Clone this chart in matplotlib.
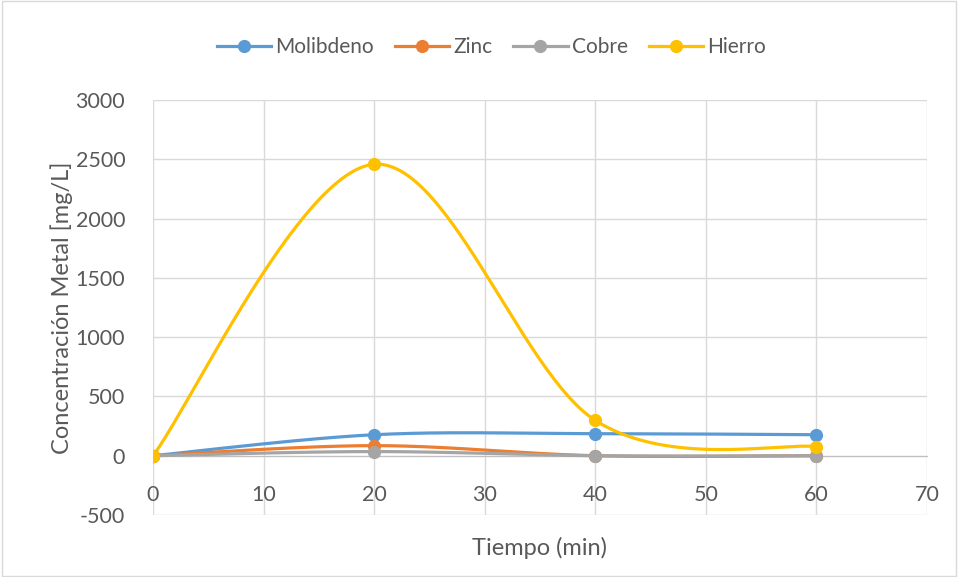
import numpy as np
import matplotlib.pyplot as plt
from matplotlib.lines import Line2D
from matplotlib.patches import Rectangle

tiempo = [0, 20, 40, 60]
molibdeno = [0, 177, 186, 177]
zinc = [0, 85, 0, 0]
cobre = [0, 35, 0, 0]
hierro = [0, 2458, 298, 76]

series = [
    ("Molibdeno", molibdeno, "#5B9BD5"),
    ("Zinc", zinc, "#ED7D31"),
    ("Cobre", cobre, "#A5A5A5"),
    ("Hierro", hierro, "#FFC000"),
]


def suavizar(x, y, n=60):
    # curva tipo Excel: bezier cubica con puntos de control catmull-rom
    x = np.asarray(x, float)
    y = np.asarray(y, float)
    px = np.concatenate([[x[0]], x, [x[-1]]])
    py = np.concatenate([[y[0]], y, [y[-1]]])
    xs, ys = [], []
    t = np.linspace(0, 1, n)
    for i in range(1, len(px) - 2):
        p0 = np.array([px[i], py[i]])
        p3 = np.array([px[i + 1], py[i + 1]])
        c1 = p0 + (np.array([px[i + 1], py[i + 1]]) - np.array([px[i - 1], py[i - 1]])) / 6
        c2 = p3 - (np.array([px[i + 2], py[i + 2]]) - np.array([px[i], py[i]])) / 6
        b = ((1 - t) ** 3)[:, None] * p0 + (3 * (1 - t) ** 2 * t)[:, None] * c1 \
            + (3 * (1 - t) * t ** 2)[:, None] * c2 + (t ** 3)[:, None] * p3
        xs.extend(b[:, 0])
        ys.extend(b[:, 1])
    return xs, ys


plt.rcParams['font.family'] = ['Lato', 'DejaVu Sans']
plt.rcParams['axes.unicode_minus'] = False

fig = plt.figure(figsize=(9.58, 5.77), dpi=100)
ax = fig.add_axes([153 / 958, 1 - 515 / 577, (927 - 153) / 958, (515 - 100) / 577])

for nombre, vals, color in series:
    sx, sy = suavizar(tiempo, vals)
    ax.plot(sx, sy, color=color, lw=2.3, solid_capstyle='round', zorder=3)
    ax.plot(tiempo, vals, 'o', color=color, ms=8.5, zorder=4)

ax.set_xlim(0, 70)
ax.set_ylim(-500, 3000)
ax.set_xticks(range(0, 71, 10))
ax.set_yticks(range(-500, 3001, 500))
ax.grid(True, color='#D9D9D9', lw=1)
ax.set_axisbelow(True)
for s in ['top', 'right', 'left']:
    ax.spines[s].set_visible(False)
ax.spines['bottom'].set_position(('data', 0))
ax.spines['bottom'].set_color('#BFBFBF')
ax.tick_params(length=0, labelsize=15.5, colors='#595959', pad=20)
ax.tick_params(axis='x', pad=21)
ax.set_xlabel("Tiempo (min)", fontsize=17, color='#595959')
ax.xaxis.set_label_coords(0.5, -0.053)
ax.set_ylabel("Concentración Metal [mg/L]", fontsize=17, color='#595959')
ax.yaxis.set_label_coords(-0.104, 0.5)

handles = [Line2D([0], [0], color=c, lw=2.3, marker='o', ms=8.5) for _, _, c in series]
fig.legend(handles, [n for n, _, _ in series], loc='center', bbox_to_anchor=(0.513, 1 - 47 / 577),
           ncol=4, frameon=False, fontsize=15, labelcolor='#595959', handlelength=2.6,
           columnspacing=1.0, handletextpad=0.2)

fig.patches.append(Rectangle((0.002, 0.002), 0.996, 0.996, transform=fig.transFigure,
                             fill=False, edgecolor='#D9D9D9', lw=1))

fig.savefig("out.png", dpi=100)
